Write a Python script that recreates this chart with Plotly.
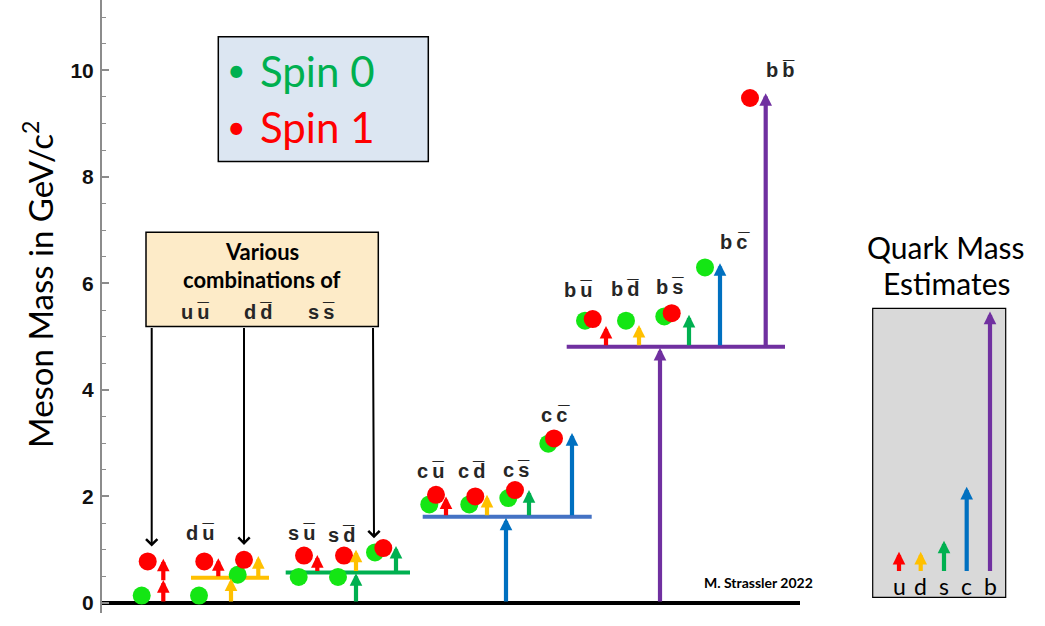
import plotly.graph_objects as go

# ---------------- data ----------------
y_ticks = [0, 2, 4, 6, 8, 10]

# Spin-0 mesons (green dots): horizontal slot and mass (GeV/c^2)
spin0_slot = [141.7, 199, 237.7, 298.7, 338, 375, 429.3, 469.3, 508.3, 548.3, 585, 626, 664.3, 705]
spin0_mass = [0.14, 0.14, 0.53, 0.49, 0.49, 0.95, 1.85, 1.85, 1.97, 2.99, 5.30, 5.30, 5.38, 6.30]

# Spin-1 mesons (red dots)
spin1_slot = [147.7, 204.3, 244, 304, 344, 383.3, 436, 475.3, 515, 554, 592.7, 671.7, 750]
spin1_mass = [0.78, 0.78, 0.81, 0.89, 0.89, 1.03, 2.03, 2.00, 2.12, 3.09, 5.33, 5.44, 9.48]

# quark-mass arrows: slot, start value, end value, quark flavour
arrow_slot  = [163.3, 163.3, 218.3, 231, 258.3, 317.3, 356, 356, 396,
               506, 572, 446, 487, 529,
               660, 765.7, 606, 639, 689, 720,
               899, 920.7, 944, 966.7, 990]
arrow_base  = [0, 0.40, 0.475, 0, 0.475, 0.57, 0.57, 0, 0.57,
               0, 1.62, 1.62, 1.62, 1.62,
               0, 4.81, 4.81, 4.81, 4.81, 4.81,
               0.57, 0.57, 0.57, 0.57, 0.57]
arrow_tip   = [0.43, 0.83, 0.84, 0.46, 0.88, 0.90, 1.00, 0.56, 1.07,
               1.60, 3.19, 2.00, 2.03, 2.12,
               4.79, 9.57, 5.20, 5.22, 5.41, 6.38,
               0.96, 0.96, 1.17, 2.18, 5.47]
arrow_quark = ["u", "u", "u", "d", "d", "u", "d", "s", "s",
               "c", "c", "u", "d", "s",
               "b", "b", "u", "d", "s", "c",
               "u", "d", "s", "c", "b"]

# heavy-quark level lines: level, start slot, end slot, flavour
level_value = [0.475, 0.57, 1.62, 4.81]
level_start = [191, 285.7, 422.7, 566.7]
level_end   = [269, 410, 591.7, 785]
level_quark = ["d", "s", "c", "b"]

# meson labels
label_text = ["d\u2009u\u0305", "s\u2009u\u0305", "s\u2009d\u0305", "c\u2009u\u0305", "c\u2009d\u0305",
              "c\u2009s\u0305", "c\u2009c\u0305", "b\u2009u\u0305", "b\u2009d\u0305", "b\u2009s\u0305",
              "b\u2009c\u0305", "b\u2009b\u0305"]
label_slot = [200, 301.7, 341.7, 430, 471.7, 516.7, 555, 578.3, 625, 670, 735, 780]
label_mass = [1.31, 1.31, 1.28, 2.47, 2.48, 2.50, 3.53, 5.88, 5.89, 5.94, 6.77, 10.0]

# "various combinations" pointer arrows: slot of tail, slot of tip, tip value
pointer_tail_slot = [151.7, 244, 373]
pointer_tip_slot  = [151.7, 244, 374]
pointer_tip_value = [1.06, 1.09, 1.215]
pointer_tail_value = 5.19

# quark mass estimate labels
quark_names = ["u", "d", "s", "c", "b"]
quark_label_slot = [899, 920.7, 944, 966.7, 990]

# ---------------- styles ----------------
QCOL = {"u": "#FF0000", "d": "#FFC000", "s": "#00B050", "c": "#0070C0", "b": "#7030A0"}
LINECOL = {"d": "#FFC000", "s": "#00B050", "c": "#4472C4", "b": "#7030A0"}
SANS = "Lato"
ARIAL = "Liberation Sans"

fig = go.Figure()

# boxes
fig.add_shape(type="rect", xref="x", yref="y", x0=218.3, x1=428.3, y0=8.29, y1=10.63,
              fillcolor="#DCE6F2", line=dict(color="black", width=1.5), layer="below")
fig.add_shape(type="rect", xref="x", yref="y", x0=146, x1=378.3, y0=5.19, y1=6.96,
              fillcolor="#FDEBC8", line=dict(color="black", width=1.5), layer="below")
fig.add_shape(type="rect", xref="x", yref="y", x0=872.7, x1=1005.7, y0=0.107, y1=5.53,
              fillcolor="#D9D9D9", line=dict(color="black", width=1.2), layer="below")

# baseline
fig.add_trace(go.Scatter(x=[102, 800], y=[0, 0], mode="lines",
                         line=dict(color="black", width=4), hoverinfo="skip", showlegend=False))

# level lines
for v, x0, x1, q in zip(level_value, level_start, level_end, level_quark):
    fig.add_trace(go.Scatter(x=[x0, x1], y=[v, v], mode="lines",
                             line=dict(color=LINECOL[q], width=4), hoverinfo="skip", showlegend=False))

# dots
fig.add_trace(go.Scatter(x=spin0_slot, y=spin0_mass, mode="markers",
                         marker=dict(color="#14E614", size=18, line=dict(width=0)),
                         showlegend=False, name="Spin 0"))
fig.add_trace(go.Scatter(x=spin1_slot, y=spin1_mass, mode="markers",
                         marker=dict(color="#FF0000", size=18, line=dict(width=0)),
                         showlegend=False, name="Spin 1"))

# arrows
for xs, b, t, q in zip(arrow_slot, arrow_base, arrow_tip, arrow_quark):
    fig.add_annotation(x=xs, y=t, ax=xs, ay=b, xref="x", yref="y", axref="x", ayref="y",
                       text="", showarrow=True, arrowhead=2, arrowsize=0.6, arrowwidth=4.2,
                       arrowcolor=QCOL[q], standoff=0)

for xt, xh, yh in zip(pointer_tail_slot, pointer_tip_slot, pointer_tip_value):
    fig.add_annotation(x=xh, y=yh, ax=xt, ay=pointer_tail_value, xref="x", yref="y",
                       axref="x", ayref="y", text="", showarrow=True, arrowhead=4,
                       arrowsize=1.1, arrowwidth=2, arrowcolor="black", standoff=0)

# meson labels
for txt, xs, ym in zip(label_text, label_slot, label_mass):
    fig.add_annotation(x=xs, y=ym, text=txt, showarrow=False, xref="x", yref="y",
                       font=dict(family=ARIAL, size=20, color="#262626", weight="bold"))

# legend text
fig.add_annotation(x=236.7, y=10.02, text="\u2022", showarrow=False,
                   font=dict(family=SANS, size=32, color="#00B050"))
fig.add_annotation(x=236.7, y=8.95, text="\u2022", showarrow=False,
                   font=dict(family=SANS, size=32, color="#FF0000"))
fig.add_annotation(x=258, y=9.99, text="Spin 0", showarrow=False, xanchor="left",
                   font=dict(family=SANS, size=42, color="#00B050"))
fig.add_annotation(x=258, y=8.93, text="Spin 1", showarrow=False, xanchor="left",
                   font=dict(family=SANS, size=42, color="#FF0000"))

# various combinations box text
fig.add_annotation(x=262, y=6.60, text="Various", showarrow=False,
                   font=dict(family=SANS, size=22, color="black", weight="bold"))
fig.add_annotation(x=262, y=6.07, text="combinations of", showarrow=False,
                   font=dict(family=SANS, size=22, color="black", weight="bold"))
for txt, xs in zip(["u\u2009u\u0305", "d\u2009d\u0305", "s\u2009s\u0305"], [195, 258, 321.7]):
    fig.add_annotation(x=xs, y=5.47, text=txt, showarrow=False,
                       font=dict(family=ARIAL, size=20, color="#262626", weight="bold"))

# quark mass estimates
fig.add_annotation(x=946, y=6.69, text="Quark Mass", showarrow=False,
                   font=dict(family=SANS, size=30, color="black"))
fig.add_annotation(x=946, y=6.00, text="Estimates", showarrow=False,
                   font=dict(family=SANS, size=30, color="black"))
for q, xs in zip(quark_names, quark_label_slot):
    fig.add_annotation(x=xs, y=0.31, text=q, showarrow=False,
                       font=dict(family=SANS, size=23, color="black"))

# credit
fig.add_annotation(x=758.3, y=0.38, text="M. Strassler 2022", showarrow=False,
                   font=dict(family=SANS, size=14, color="black", weight="bold"))

# y-axis title (placed in the left margin)
fig.add_annotation(x=(38 - 102) / (1045 - 102), xref="paper", xanchor="center",
                   y=5.97, yref="y", yanchor="middle",
                   text="Meson Mass in GeV/c<sup>2</sup>", showarrow=False,
                   textangle=-90, font=dict(family=SANS, size=33, color="black"))

fig.update_layout(
    width=1045, height=626,
    margin=dict(l=102, r=0, t=0, b=13),
    paper_bgcolor="white", plot_bgcolor="white",
    showlegend=False,
    xaxis=dict(range=[102, 1045], visible=False),
    yaxis=dict(range=[-0.188, 11.32], tickvals=y_ticks, ticks="inside", ticklen=7,
               tickwidth=1.5, tickcolor="#8c8c8c", showline=True, linecolor="#8c8c8c",
               linewidth=2, showgrid=False, zeroline=False, ticklabelstandoff=2,
               tickfont=dict(family=ARIAL, size=21, color="#111111", weight="bold"),
               minor=dict(dtick=0.5, tick0=0, ticks="inside", ticklen=4,
                          tickcolor="#8c8c8c", tickwidth=1.2)),
)

fig.write_html("out.html", config={"displayModeBar": False},
               post_script="document.body.style.margin='0';")
